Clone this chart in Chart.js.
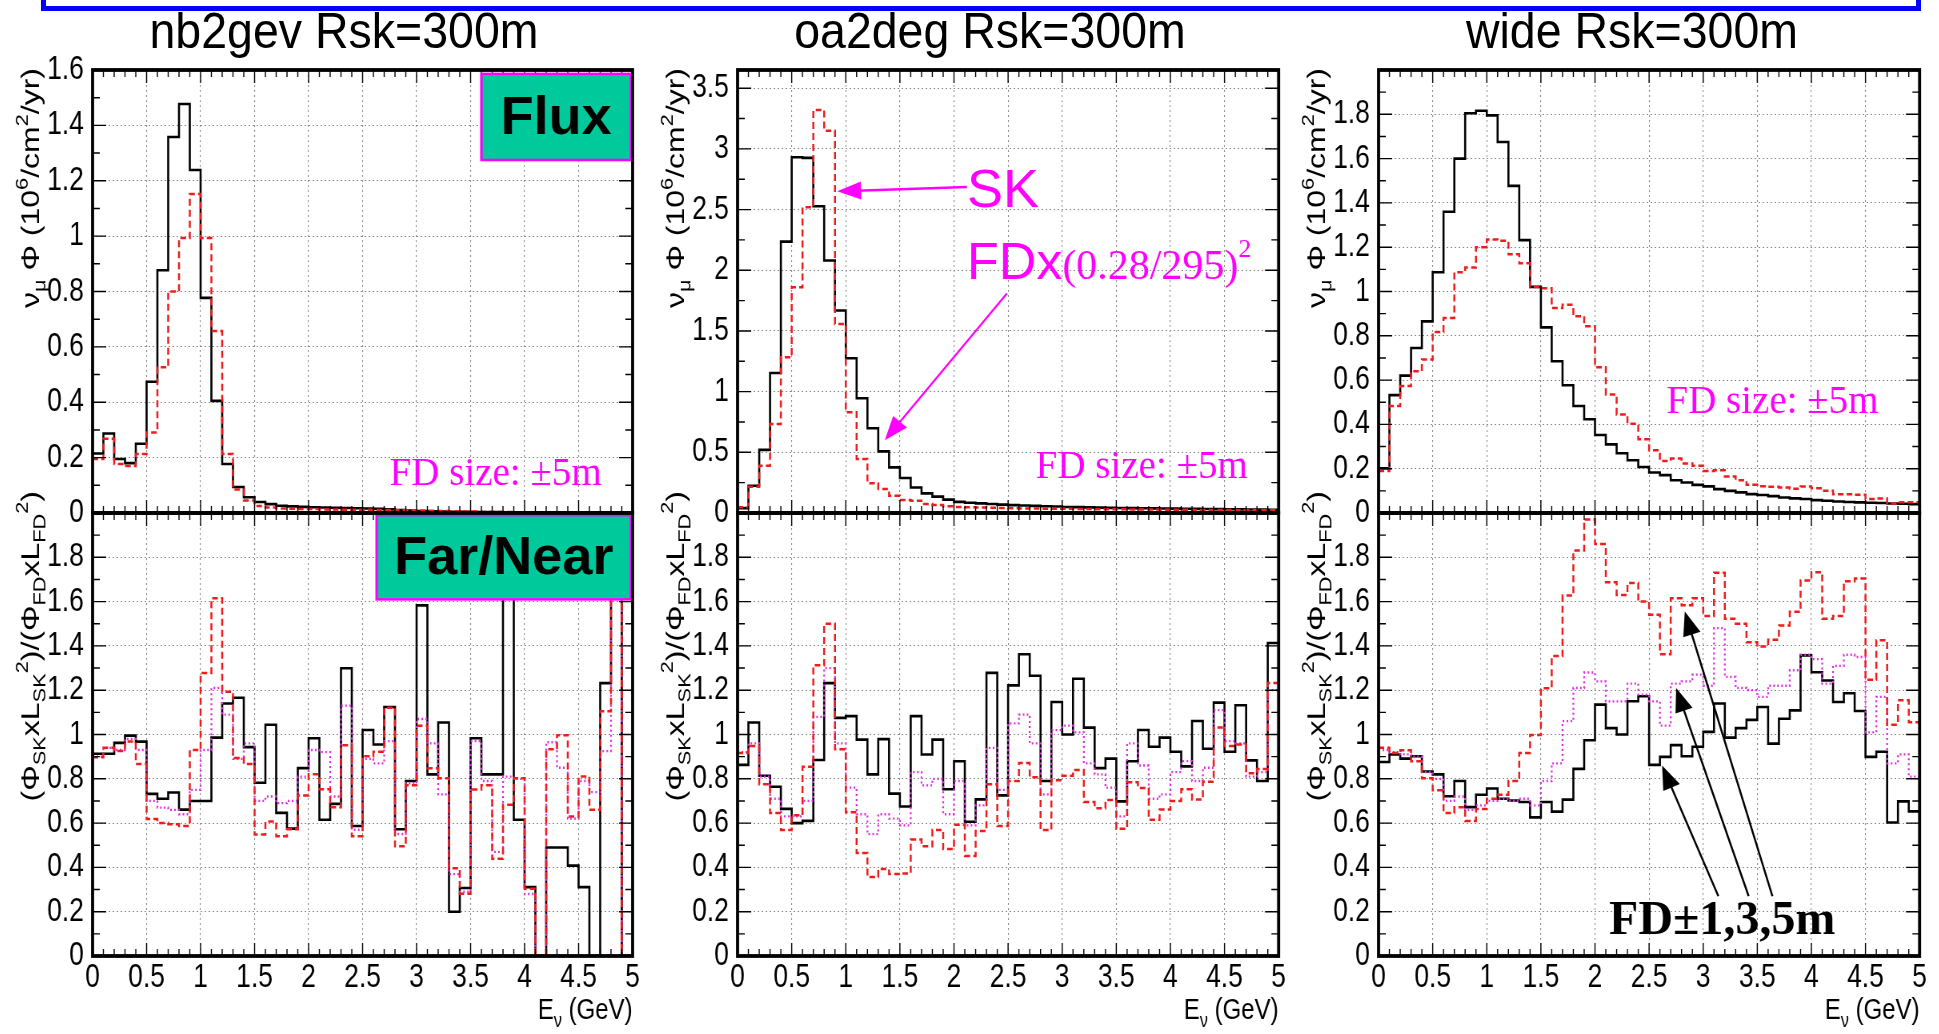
<!DOCTYPE html>
<html>
<head>
<meta charset="utf-8">
<script src="https://cdn.jsdelivr.net/npm/chart.js@4.4.1/dist/chart.umd.min.js"></script>
<style>
  body { margin: 0; width: 1939px; height: 1034px; overflow: hidden; position: relative; background: #fff; }
  canvas { position: absolute; transform-origin: 0 0; }
  .title { position: absolute; top: 1px; height: 60px; line-height: 60px; transform: translateX(-50%) scaleX(0.93);
           white-space: nowrap; font-family: "Liberation Sans", Arial, sans-serif; font-size: 50px; color: #000; }
  #topframe { position: absolute; left: 41px; top: -10px; width: 1870px; height: 11px; border: 5px solid #0000ff; }
</style>
</head>
<body>
<div id="topframe"></div>
<div class="title" style="left:344px">nb2gev Rsk=300m</div>
<div class="title" style="left:990px">oa2deg Rsk=300m</div>
<div class="title" style="left:1632px">wide Rsk=300m</div>
<canvas id="c0"></canvas><canvas id="c1"></canvas><canvas id="c2"></canvas>
<canvas id="c3"></canvas><canvas id="c4"></canvas><canvas id="c5"></canvas>
<script>
// 50 bins of 0.1 GeV from 0 to 5 GeV
const binEdges = Array.from({ length: 51 }, (_, i) => i / 10);
const xTicks = [0, 0.5, 1, 1.5, 2, 2.5, 3, 3.5, 4, 4.5, 5];

// Flux panels (10^6/cm^2/yr): SK and FDx(0.28/295)^2
const nb2gevSK = [0.215, 0.287, 0.195, 0.18, 0.25, 0.474, 0.877, 1.358, 1.477, 1.239, 0.777, 0.405, 0.177, 0.094, 0.057,
  0.04, 0.032, 0.026, 0.024, 0.022, 0.021, 0.02, 0.019, 0.018, 0.017, 0.016, 0.015, 0.013, 0.011, 0.009,
  0.007, 0.006, 0.005, 0.004, 0.004, 0.003, 0.003, 0.003, 0.002, 0.002, 0.002, 0.002, 0.002, 0.002, 0.002,
  0.002, 0.002, 0.002, 0.002, 0.002];
const nb2gevFD = [0.195, 0.268, 0.177, 0.17, 0.213, 0.291, 0.526, 0.80, 0.993, 1.152, 0.993, 0.657, 0.213, 0.085, 0.045,
  0.025, 0.02, 0.016, 0.015, 0.014, 0.014, 0.013, 0.013, 0.012, 0.012, 0.012, 0.011, 0.011, 0.010, 0.010,
  0.009, 0.008, 0.007, 0.006, 0.005, 0.005, 0.004, 0.004, 0.004, 0.003, 0.003, 0.003, 0.003, 0.002, 0.002,
  0.002, 0.002, 0.002, 0.002, 0.002];
const oa2degSK = [0.04, 0.225, 0.52, 1.154, 2.236, 2.931, 2.926, 2.527, 2.08, 1.668, 1.275, 0.945, 0.698, 0.508, 0.376,
  0.288, 0.21, 0.162, 0.135, 0.11, 0.092, 0.085, 0.079, 0.074, 0.069, 0.065, 0.062, 0.059, 0.056, 0.053,
  0.05, 0.048, 0.046, 0.044, 0.042, 0.041, 0.04, 0.039, 0.038, 0.037, 0.036, 0.035, 0.034, 0.033, 0.032,
  0.031, 0.03, 0.029, 0.028, 0.027];
const oa2degFD = [0.047, 0.217, 0.39, 0.733, 1.283, 1.86, 2.52, 3.32, 3.15, 1.558, 0.83, 0.445, 0.245, 0.198, 0.143,
  0.107, 0.10, 0.074, 0.066, 0.055, 0.05, 0.047, 0.045, 0.043, 0.041, 0.04, 0.038, 0.037, 0.036, 0.035,
  0.034, 0.033, 0.032, 0.031, 0.03, 0.03, 0.029, 0.028, 0.028, 0.027, 0.026, 0.026, 0.025, 0.025, 0.024,
  0.024, 0.023, 0.023, 0.022, 0.022];
const wideSK = [0.202, 0.532, 0.62, 0.745, 0.865, 1.087, 1.36, 1.60, 1.805, 1.816, 1.795, 1.675, 1.477, 1.232, 1.021,
  0.838, 0.685, 0.577, 0.483, 0.423, 0.352, 0.31, 0.27, 0.238, 0.208, 0.183, 0.171, 0.148, 0.138, 0.127,
  0.12, 0.108, 0.10, 0.093, 0.085, 0.081, 0.076, 0.07, 0.066, 0.063, 0.058, 0.055, 0.052, 0.05, 0.048,
  0.046, 0.045, 0.043, 0.042, 0.04];
const wideFD = [0.19, 0.483, 0.573, 0.64, 0.693, 0.817, 0.88, 1.087, 1.108, 1.2, 1.235, 1.229, 1.168, 1.127, 1.02,
  1.015, 0.925, 0.94, 0.888, 0.843, 0.658, 0.535, 0.445, 0.403, 0.333, 0.283, 0.235, 0.246, 0.223, 0.213,
  0.19, 0.193, 0.165, 0.148, 0.127, 0.121, 0.118, 0.115, 0.109, 0.12, 0.112, 0.10, 0.085, 0.085, 0.082,
  0.063, 0.066, 0.043, 0.048, 0.048];

// Far/Near ratio panels for FD size +-1m, +-3m, +-5m (values above 2 are off scale)
const nb2gevR1 = [0.913, 0.913, 0.962, 0.995, 0.968, 0.732, 0.71, 0.738, 0.661, 0.70, 0.70, 0.986, 1.14, 1.166, 0.943,
  0.782, 1.044, 0.646, 0.575, 0.848, 0.983, 0.615, 0.687, 1.299, 0.587, 1.02, 0.955, 1.124, 0.572, 0.79,
  1.583, 0.82, 1.054, 0.20, 0.307, 0.983, 0.82, 0.82, 2.6, 0.615, 0.311, 0, 0.49, 0.49, 0.408,
  0.311, 0, 1.232, 2.6, 0];
const nb2gevR3 = [0.90, 0.94, 0.93, 0.98, 0.93, 0.70, 0.67, 0.66, 0.64, 0.75, 0.93, 1.21, 1.09, 0.89, 0.96,
  0.70, 0.72, 0.69, 0.70, 0.81, 0.93, 0.92, 0.72, 1.13, 0.57, 0.89, 0.87, 0.97, 0.55, 0.78,
  1.07, 0.96, 0.73, 0.37, 0.29, 0.97, 0.79, 0.47, 0.81, 0.80, 0.28, 0, 0.965, 0.85, 0.62,
  0.79, 0.74, 0.925, 2.6, 0];
const nb2gevR5 = [0.897, 0.94, 0.925, 0.968, 0.867, 0.618, 0.60, 0.595, 0.587, 0.93, 1.278, 1.615, 1.193, 0.894, 0.867,
  0.549, 0.607, 0.541, 0.572, 0.725, 0.82, 0.753, 0.672, 0.952, 0.541, 0.902, 0.922, 1.121, 0.495, 0.771,
  1.04, 0.848, 0.802, 0.396, 0.281, 0.752, 0.771, 0.439, 0.683, 0.802, 0.304, 0, 0.933, 0.997, 0.63,
  0.81, 0.66, 1.105, 2.6, 0];
const oa2degR1 = [0.863, 1.054, 0.814, 0.764, 0.664, 0.60, 0.61, 0.885, 1.232, 1.075, 1.083, 0.977, 0.82, 0.979, 0.733,
  0.675, 1.083, 0.91, 0.977, 0.753, 0.879, 0.606, 0.707, 1.278, 0.725, 1.222, 1.362, 1.265, 0.79, 1.147,
  1.0, 1.252, 1.031, 0.848, 0.891, 0.698, 0.879, 1.02, 0.945, 0.986, 0.922, 0.856, 1.061, 0.936, 1.144,
  0.922, 1.132, 0.883, 0.79, 1.413];
const oa2degR3 = [0.92, 0.96, 0.81, 0.71, 0.63, 0.63, 0.70, 1.08, 1.30, 0.96, 0.76, 0.64, 0.55, 0.64, 0.62,
  0.59, 0.83, 0.77, 0.80, 0.64, 0.79, 0.59, 0.68, 0.94, 0.75, 1.05, 1.09, 0.96, 0.73, 1.02,
  1.04, 1.01, 0.87, 0.82, 0.76, 0.63, 0.96, 0.86, 0.71, 0.73, 0.83, 0.88, 0.79, 0.85, 1.11,
  0.97, 0.96, 0.81, 0.83, 1.20];
const oa2degR5 = [0.917, 0.948, 0.775, 0.646, 0.569, 0.636, 0.854, 1.313, 1.50, 0.933, 0.649, 0.465, 0.357, 0.393, 0.37,
  0.373, 0.526, 0.495, 0.569, 0.483, 0.592, 0.452, 0.564, 0.775, 0.587, 0.79, 0.871, 0.807, 0.569, 0.794,
  0.814, 0.84, 0.695, 0.667, 0.704, 0.575, 0.784, 0.759, 0.615, 0.661, 0.70, 0.753, 0.706, 0.787, 1.032,
  0.948, 0.955, 0.825, 0.844, 1.232];
const wideR1 = [0.876, 0.91, 0.891, 0.902, 0.833, 0.82, 0.721, 0.79, 0.672, 0.728, 0.756, 0.71, 0.702, 0.695, 0.626,
  0.695, 0.652, 0.706, 0.845, 0.974, 1.135, 1.029, 1.0, 1.15, 1.173, 0.863, 0.899, 0.952, 0.902, 0.945,
  1.012, 1.14, 0.986, 1.029, 1.066, 1.124, 0.959, 1.071, 1.109, 1.357, 1.281, 1.244, 1.147, 1.186, 1.106,
  0.899, 0.922, 0.603, 0.698, 0.653];
const wideR3 = [0.93, 0.92, 0.91, 0.90, 0.83, 0.80, 0.70, 0.72, 0.66, 0.68, 0.70, 0.71, 0.70, 0.71, 0.68,
  0.79, 0.87, 1.06, 1.21, 1.28, 1.24, 1.15, 1.15, 1.23, 1.18, 1.15, 1.04, 1.23, 1.24, 1.27,
  1.22, 1.48, 1.26, 1.21, 1.20, 1.17, 1.22, 1.22, 1.29, 1.36, 1.34, 1.23, 1.31, 1.36, 1.35,
  1.01, 1.17, 0.87, 0.91, 0.81];
const wideR5 = [0.94, 0.917, 0.929, 0.879, 0.802, 0.748, 0.646, 0.672, 0.61, 0.664, 0.71, 0.728, 0.79, 0.917, 0.998,
  1.209, 1.354, 1.627, 1.831, 1.971, 1.86, 1.687, 1.63, 1.684, 1.60, 1.541, 1.362, 1.615, 1.584, 1.615,
  1.535, 1.73, 1.523, 1.50, 1.416, 1.397, 1.428, 1.492, 1.554, 1.695, 1.733, 1.523, 1.535, 1.692, 1.704,
  1.247, 1.426, 1.044, 1.155, 1.055];

// y tick labels and ranges
const yTicksNbFlux = [0, 0.2, 0.4, 0.6, 0.8, 1, 1.2, 1.4, 1.6];
const yTicksOaFlux = [0, 0.5, 1, 1.5, 2, 2.5, 3, 3.5];
const yTicksWideFlux = [0, 0.2, 0.4, 0.6, 0.8, 1, 1.2, 1.4, 1.6, 1.8];
const yTicksRatio = [0, 0.2, 0.4, 0.6, 0.8, 1, 1.2, 1.4, 1.6, 1.8];
const fluxMax = [1.6, 3.65, 2.0];
const ratioMax = 2.0;

const SANS = '"Liberation Sans", Arial, sans-serif';
const SERIF = '"Liberation Serif", "Times New Roman", serif';
const MAGENTA = '#ff00ff';

// Plot rectangles (page pixels). The ROOT canvas is squeezed horizontally by K.
const colLeft = [93, 738, 1379];
const colRight = [633, 1279, 1920];
const K = 0.8;
const AXIS_W = 112;   // logical width kept for y labels and title

const lineStyle = {
  black: { borderColor: '#000000', borderWidth: 2.6, borderDash: [], order: 3 },
  mag:   { borderColor: '#e22ee2', borderWidth: 2.3, borderDash: [2, 3], order: 2 },
  red:   { borderColor: '#ee1c1c', borderWidth: 2.5, borderDash: [7, 4], order: 1 }
};

function histPoints(values) {
  const pts = values.map((v, i) => ({ x: binEdges[i], y: v }));
  pts.push({ x: binEdges[50], y: values[values.length - 1] });
  return pts;
}

const fmt = v => String(+(+v).toFixed(2));

const fluxTitle = [{ t: 'ν' }, { t: 'μ', sub: true }, { t: ' Φ (10' }, { t: '6', sup: true }, { t: '/cm' }, { t: '2', sup: true }, { t: '/yr)' }];
const ratioTitle = [{ t: '(Φ' }, { t: 'SK', sub: true }, { t: 'xL' }, { t: 'SK', sub: true }, { t: '2', sup: true },
  { t: ')/(Φ' }, { t: 'FD', sub: true }, { t: 'xL' }, { t: 'FD', sub: true }, { t: '2', sup: true }, { t: ')' }];
const xTitle = [{ t: 'E' }, { t: 'ν', sub: true }, { t: ' (GeV)' }];

function drawRich(ctx, segs, x, y, align, base) {
  let w = 0;
  const parts = segs.map(s => {
    const size = s.size || ((s.sub || s.sup) ? base.size * 0.68 : base.size);
    const font = `${s.weight || base.weight || 'normal'} ${size}px ${s.family || base.family}`;
    ctx.font = font;
    const width = ctx.measureText(s.t).width;
    const dy = s.sub ? base.size * 0.28 : s.sup ? -base.size * 0.42 : 0;
    const p = { font, width, dy, t: s.t, dx: w };
    w += width;
    return p;
  });
  const x0 = align === 'right' ? x - w : align === 'center' ? x - w / 2 : x;
  ctx.textAlign = 'left';
  ctx.textBaseline = 'alphabetic';
  ctx.fillStyle = base.color || '#000';
  parts.forEach(p => { ctx.font = p.font; ctx.fillText(p.t, x0 + p.dx, y + p.dy); });
}

function drawArrow(ctx, x0, y0, x1, y1, color, width, len, half) {
  const ang = Math.atan2(y1 - y0, x1 - x0);
  ctx.strokeStyle = color; ctx.fillStyle = color; ctx.lineWidth = width;
  ctx.beginPath(); ctx.moveTo(x0, y0);
  ctx.lineTo(x1 - Math.cos(ang) * len * 0.8, y1 - Math.sin(ang) * len * 0.8); ctx.stroke();
  ctx.beginPath(); ctx.moveTo(x1, y1);
  ctx.lineTo(x1 - Math.cos(ang) * len + Math.sin(ang) * half, y1 - Math.sin(ang) * len - Math.cos(ang) * half);
  ctx.lineTo(x1 - Math.cos(ang) * len - Math.sin(ang) * half, y1 - Math.sin(ang) * len + Math.cos(ang) * half);
  ctx.closePath(); ctx.fill();
}

// ROOT-like frame: inner ticks, label boxes, thick frame, notes, axis titles
const rootFrame = {
  id: 'rootFrame',
  afterDatasetsDraw(chart, args, o) {
    const { ctx, chartArea: a, scales: { x, y } } = chart;
    ctx.save();
    ctx.strokeStyle = '#000';
    ctx.lineWidth = 1.4;
    ctx.beginPath();
    binEdges.forEach(v => {
      const px = x.getPixelForValue(v);
      const len = Math.abs(v * 2 - Math.round(v * 2)) < 1e-9 ? 13 : 7;
      ctx.moveTo(px, a.bottom); ctx.lineTo(px, a.bottom - len);
      ctx.moveTo(px, a.top); ctx.lineTo(px, a.top + len);
    });
    const step = o.yTicks[1] - o.yTicks[0];
    o.yTicks.forEach(v => {
      const py = y.getPixelForValue(v);
      ctx.moveTo(a.left, py); ctx.lineTo(a.left + 17, py);
      ctx.moveTo(a.right, py); ctx.lineTo(a.right - 17, py);
      const pm = y.getPixelForValue(v + step / 2);
      if (pm > a.top) {
        ctx.moveTo(a.left, pm); ctx.lineTo(a.left + 9, pm);
        ctx.moveTo(a.right, pm); ctx.lineTo(a.right - 9, pm);
      }
    });
    ctx.stroke();
    ctx.restore();
  },
  afterDraw(chart, args, o) {
    const { ctx, chartArea: a, scales: { x, y } } = chart;
    const X = v => x.getPixelForValue(v) * K;   // unsqueezed x for the slide notes
    const Y = v => y.getPixelForValue(v);
    ctx.save();
    ctx.scale(1 / K, 1);
    (o.boxes || []).forEach(b => {
      const l = X(b.x0), r = X(b.x1), t = Y(b.y1), btm = Y(b.y0);
      ctx.fillStyle = '#00c99b';
      ctx.fillRect(l, t, r - l, btm - t);
      ctx.strokeStyle = MAGENTA; ctx.lineWidth = 2.5;
      ctx.strokeRect(l, t, r - l, btm - t);
      ctx.fillStyle = '#000';
      ctx.font = `bold 54px ${SANS}`;
      ctx.textAlign = 'center'; ctx.textBaseline = 'middle';
      ctx.fillText(b.text, (l + r) / 2, (t + btm) / 2 + 2);
    });
    ctx.restore();

    ctx.save();
    ctx.strokeStyle = '#000'; ctx.lineWidth = 3.8;
    ctx.strokeRect(a.left, a.top, a.right - a.left, a.bottom - a.top);
    // y axis title, rotated, ending near the top of the frame
    ctx.save();
    ctx.translate(a.left - 54 / K, a.top - o.titleGap);
    ctx.rotate(-Math.PI / 2);
    drawRich(ctx, o.yTitle, 0, 0, 'right', { size: o.titleSize, family: SANS, color: '#000' });
    ctx.restore();
    if (o.showX) drawRich(ctx, xTitle, a.right, a.bottom + 63, 'right', { size: 30, family: SANS, color: '#000' });
    ctx.restore();

    ctx.save();
    ctx.scale(1 / K, 1);
    (o.texts || []).forEach(tx => drawRich(ctx, tx.segs, X(tx.x), Y(tx.y), 'left', tx.base));
    (o.arrows || []).forEach(ar => drawArrow(ctx, X(ar.x0), Y(ar.y0), X(ar.x1), Y(ar.y1), ar.color, ar.width, 24, 9));
    ctx.restore();
  }
};

const magText = (t, size) => ({ base: { size, family: SERIF, color: MAGENTA }, segs: [{ t }] });

const panels = [
  { id: 'c0', col: 0, row: 0, yMax: fluxMax[0], yTicks: yTicksNbFlux, yTitle: fluxTitle,
    series: [[nb2gevFD, 'red'], [nb2gevSK, 'black']],
    boxes: [{ x0: 3.6, x1: 4.985, y0: 1.275, y1: 1.586, text: 'Flux' }],
    texts: [{ x: 2.75, y: 0.1, ...magText('FD size: ±5m', 39) }] },
  { id: 'c1', col: 0, row: 1, yMax: ratioMax, yTicks: yTicksRatio, yTitle: ratioTitle,
    series: [[nb2gevR5, 'red'], [nb2gevR3, 'mag'], [nb2gevR1, 'black']],
    boxes: [{ x0: 2.63, x1: 4.985, y0: 1.61, y1: 1.99, text: 'Far/Near' }] },
  { id: 'c2', col: 1, row: 0, yMax: fluxMax[1], yTicks: yTicksOaFlux, yTitle: fluxTitle,
    series: [[oa2degFD, 'red'], [oa2degSK, 'black']],
    texts: [
      { x: 2.12, y: 2.52, base: { size: 54, family: SANS, color: MAGENTA }, segs: [{ t: 'SK' }] },
      { x: 2.12, y: 1.93, base: { size: 52, family: SANS, color: MAGENTA },
        segs: [{ t: 'FDx' }, { t: '(0.28/295)', family: SERIF, size: 42 }, { t: '2', family: SERIF, size: 26, sup: true }] },
      { x: 2.755, y: 0.29, ...magText('FD size: ±5m', 39) }
    ],
    arrows: [
      { x0: 2.12, y0: 2.685, x1: 0.92, y1: 2.65, color: MAGENTA, width: 2.5 },
      { x0: 2.49, y0: 1.81, x1: 1.36, y1: 0.60, color: MAGENTA, width: 2 }
    ] },
  { id: 'c3', col: 1, row: 1, yMax: ratioMax, yTicks: yTicksRatio, yTitle: ratioTitle,
    series: [[oa2degR5, 'red'], [oa2degR3, 'mag'], [oa2degR1, 'black']] },
  { id: 'c4', col: 2, row: 0, yMax: fluxMax[2], yTicks: yTicksWideFlux, yTitle: fluxTitle,
    series: [[wideFD, 'red'], [wideSK, 'black']],
    texts: [{ x: 2.66, y: 0.45, ...magText('FD size: ±5m', 39) }] },
  { id: 'c5', col: 2, row: 1, yMax: ratioMax, yTicks: yTicksRatio, yTitle: ratioTitle,
    series: [[wideR5, 'red'], [wideR3, 'mag'], [wideR1, 'black']],
    texts: [{ x: 2.13, y: 0.1, base: { size: 48, family: SERIF, weight: 'bold', color: '#000' }, segs: [{ t: 'FD±1,3,5m' }] }],
    arrows: [
      { x0: 3.14, y0: 0.27, x1: 2.62, y1: 0.86, color: '#000', width: 2 },
      { x0: 3.42, y0: 0.27, x1: 2.75, y1: 1.21, color: '#000', width: 2 },
      { x0: 3.64, y0: 0.27, x1: 2.83, y1: 1.555, color: '#000', width: 2 }
    ] }
];

panels.forEach(p => {
  const cv = document.getElementById(p.id);
  const plotW = (colRight[p.col] - colLeft[p.col]) / K;
  const padTop = p.row === 0 ? 36 : 40;
  const padBottom = p.row === 0 ? 36 : 0;
  const xAxisH = p.row === 0 ? 0 : 78;
  const w = Math.ceil(AXIS_W + plotW + 18);
  const padRight = w - AXIS_W - plotW;
  const h = padTop + 443 + padBottom + xAxisH;
  cv.width = w; cv.height = h;
  cv.style.left = (colLeft[p.col] - AXIS_W * K) + 'px';
  cv.style.top = (p.row === 0 ? 70 - padTop : 513 - padTop) + 'px';
  cv.style.transform = `scaleX(${K})`;

  const tickFont = { family: SANS, size: 33 };
  new Chart(cv, {
    type: 'line',
    data: {
      datasets: p.series.map(([vals, st]) => ({
        data: histPoints(vals),
        stepped: true,
        pointRadius: 0,
        fill: false,
        ...lineStyle[st]
      }))
    },
    options: {
      responsive: false,
      animation: false,
      events: [],
      layout: { padding: { top: padTop, right: padRight, bottom: padBottom, left: 0 } },
      plugins: {
        legend: { display: false },
        tooltip: { enabled: false },
        rootFrame: { yTicks: p.yTicks, yTitle: p.yTitle, titleGap: p.row === 0 ? 2 : 22,
                     titleSize: 32, showX: p.row === 1,
                     boxes: p.boxes, texts: p.texts, arrows: p.arrows }
      },
      scales: {
        x: {
          type: 'linear', min: 0, max: 5,
          afterBuildTicks: s => { s.ticks = xTicks.map(v => ({ value: v })); },
          afterFit: s => { s.height = xAxisH; },
          ticks: { display: p.row === 1, font: tickFont, color: '#000', padding: 2, maxRotation: 0, autoSkip: false, callback: fmt },
          grid: { color: '#8c8c8c', lineWidth: 1.1, drawTicks: false },
          border: { display: false, dash: [2, 3] }
        },
        y: {
          type: 'linear', min: 0, max: p.yMax,
          afterBuildTicks: s => { s.ticks = p.yTicks.map(v => ({ value: v })); },
          afterFit: s => { s.width = AXIS_W; },
          ticks: { font: tickFont, color: '#000', padding: 11, autoSkip: false, callback: fmt },
          grid: { color: '#8c8c8c', lineWidth: 1.1, drawTicks: false },
          border: { display: false, dash: [2, 3] }
        }
      }
    },
    plugins: [rootFrame]
  });
});
</script>
</body>
</html>
